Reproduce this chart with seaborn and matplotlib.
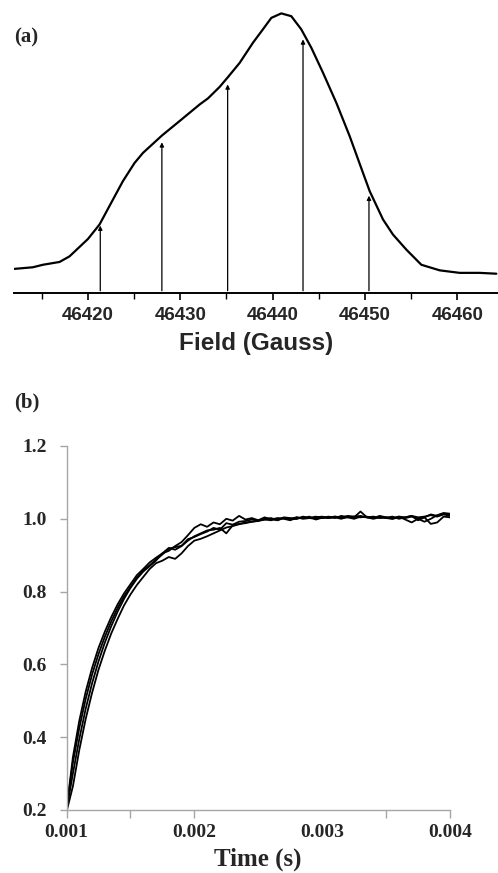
import numpy as np
import pandas as pd
import matplotlib
matplotlib.use("Agg")
import matplotlib.pyplot as plt
import seaborn as sns

# ---------------- Panel (a) data: EPR field sweep ----------------
field_gauss = [46411.95, 46414.04, 46415.13, 46416.93, 46418.01, 46420.00, 46421.26,
               46422.71, 46423.79, 46425.05, 46425.96, 46428.01, 46429.93, 46432.09,
               46433.00, 46434.26, 46435.16, 46436.43, 46437.87, 46438.95, 46439.86,
               46440.94, 46442.02, 46443.10, 46444.19, 46445.45, 46446.90, 46448.34,
               46449.78, 46450.51, 46451.95, 46453.03, 46454.48, 46456.10, 46458.09,
               46460.25, 46462.42, 46464.22]
intensity = [0.086, 0.092, 0.101, 0.111, 0.131, 0.193, 0.245,
             0.334, 0.400, 0.465, 0.501, 0.563, 0.615, 0.674,
             0.696, 0.737, 0.772, 0.823, 0.895, 0.943, 0.984,
             1.000, 0.990, 0.943, 0.877, 0.788, 0.680, 0.561,
             0.430, 0.364, 0.263, 0.209, 0.155, 0.101, 0.081,
             0.072, 0.072, 0.069]
arrow_fields = [46421.34, 46428.01, 46435.13, 46443.29, 46450.43]
arrow_tops = [0.241, 0.539, 0.746, 0.907, 0.348]
arrow_base = 0.008
a_ticks = [46420, 46430, 46440, 46450, 46460]
a_minor = [46415, 46425, 46435, 46445, 46455]

# ---------------- Panel (b) data: recovery traces ----------------
time_s = [0.00100, 0.00105, 0.00110, 0.00115, 0.00120, 0.00125, 0.00130, 0.00135,
          0.00140, 0.00145, 0.00150, 0.00155, 0.00160, 0.00165, 0.00170, 0.00175,
          0.00180, 0.00185, 0.00190, 0.00195, 0.00200, 0.00205, 0.00210, 0.00215,
          0.00220, 0.00225, 0.00230, 0.00235, 0.00240, 0.00245, 0.00250, 0.00255,
          0.00260, 0.00265, 0.00270, 0.00275, 0.00280, 0.00285, 0.00290, 0.00295,
          0.00300, 0.00305, 0.00310, 0.00315, 0.00320, 0.00325, 0.00330, 0.00335,
          0.00340, 0.00345, 0.00350, 0.00355, 0.00360, 0.00365, 0.00370, 0.00375,
          0.00380, 0.00385, 0.00390, 0.00395, 0.00400]
trace_1 = [0.200, 0.345, 0.445, 0.525, 0.590, 0.645, 0.690, 0.730, 0.765, 0.795,
           0.820, 0.845, 0.862, 0.880, 0.893, 0.905, 0.912, 0.925, 0.936, 0.955,
           0.975, 0.985, 0.978, 0.990, 0.985, 1.000, 0.995, 1.008, 0.998, 1.002,
           0.996, 1.004, 0.998, 1.002, 1.000, 0.996, 1.004, 1.002, 1.006, 0.998,
           1.003, 1.006, 1.002, 1.008, 1.004, 1.000, 1.006, 1.004, 1.002, 1.006,
           1.003, 1.006, 1.000, 1.004, 1.008, 1.004, 1.006, 1.010, 1.006, 1.012,
           1.008]
trace_2 = [0.205, 0.330, 0.425, 0.505, 0.572, 0.628, 0.676, 0.718, 0.755, 0.787,
           0.812, 0.838, 0.858, 0.872, 0.888, 0.902, 0.918, 0.922, 0.926, 0.944,
           0.950, 0.958, 0.965, 0.975, 0.970, 0.988, 0.984, 0.992, 0.994, 0.998,
           0.996, 1.000, 1.002, 0.996, 1.004, 1.002, 1.000, 1.006, 1.002, 1.004,
           1.006, 1.002, 1.004, 1.000, 1.006, 1.004, 1.020, 1.004, 1.006, 1.002,
           1.004, 1.000, 1.006, 1.004, 1.008, 0.996, 1.004, 1.012, 1.008, 1.014,
           1.012]
trace_3 = [0.200, 0.300, 0.395, 0.478, 0.548, 0.608, 0.660, 0.705, 0.745, 0.780,
           0.810, 0.835, 0.855, 0.870, 0.885, 0.905, 0.920, 0.915, 0.925, 0.940,
           0.952, 0.960, 0.968, 0.970, 0.975, 0.960, 0.982, 0.986, 0.988, 0.992,
           0.995, 0.998, 1.000, 0.996, 1.002, 1.000, 1.004, 1.000, 1.002, 1.006,
           1.002, 1.004, 1.006, 1.002, 1.004, 1.006, 1.008, 1.004, 1.000, 1.004,
           1.002, 1.000, 1.004, 1.002, 1.006, 1.000, 0.992, 1.000, 1.010, 1.016,
           1.014]
trace_4 = [0.195, 0.265, 0.365, 0.450, 0.522, 0.585, 0.638, 0.685, 0.725, 0.762,
           0.792, 0.818, 0.840, 0.862, 0.878, 0.885, 0.895, 0.890, 0.905, 0.925,
           0.940, 0.945, 0.952, 0.960, 0.968, 0.976, 0.980, 0.985, 0.990, 0.992,
           0.994, 0.998, 0.996, 1.000, 1.002, 0.998, 1.000, 1.004, 1.002, 1.000,
           1.004, 1.002, 1.006, 1.004, 1.008, 1.006, 1.004, 1.006, 1.002, 1.008,
           1.004, 1.002, 1.006, 0.998, 0.990, 1.000, 1.004, 0.986, 0.990, 1.006,
           1.004]
b_xticks = [0.001, 0.002, 0.003, 0.004]
b_xticklabels = ["0.001", "0.002", "0.003", "0.004"]
b_xminor = [0.0015, 0.0035]
b_yticks = [0.2, 0.4, 0.6, 0.8, 1.0, 1.2]
b_yticklabels = ["0.2", "0.4", "0.6", "0.8", "1.0", "1.2"]

# ---------------- Figure ----------------
sns.set_style("white")
plt.rcParams['font.family'] = ['Liberation Sans', 'DejaVu Sans']

W, H = 498, 873
fig = plt.figure(figsize=(W / 100, H / 100), dpi=100)

# Panel (a)
axa = fig.add_axes([14 / W, 1 - 293 / H, (W - 14) / W, (293 - 5) / H])
df_a = pd.DataFrame({"field": field_gauss, "intensity": intensity})
sns.lineplot(data=df_a, x="field", y="intensity", ax=axa, color="black",
             linewidth=1.6, sort=False)
for f, t in zip(arrow_fields, arrow_tops):
    axa.annotate("", xy=(f, t), xytext=(f, arrow_base),
                 arrowprops=dict(arrowstyle="-|>", color="black", lw=0.9,
                                 mutation_scale=6, shrinkA=0, shrinkB=0))
axa.set_xlim(46412, 46464.4)
axa.set_ylim(0, 1.03)
for s in ["top", "left", "right"]:
    axa.spines[s].set_visible(False)
axa.spines["bottom"].set_color("black")
axa.spines["bottom"].set_linewidth(1.4)
axa.set_yticks([])
axa.set_xticks(a_ticks)
axa.set_xticks(a_minor, minor=True)
axa.set_xticklabels([str(v) for v in a_ticks], fontsize=13.5, fontweight="bold",
                    family="Liberation Sans")
axa.tick_params(axis="x", which="major", direction="out", length=5, width=1.2,
                color="black", pad=5, bottom=True)
axa.tick_params(axis="x", which="minor", direction="out", length=4, width=1.0,
                color="black", bottom=True)
axa.set_xlabel("Field (Gauss)", fontsize=17.5, fontweight="bold",
               family="Liberation Sans", labelpad=6)
axa.set_ylabel("")

# Panel (b)
axb = fig.add_axes([66.5 / W, 1 - 810 / H, (450 - 66.5) / W, (810 - 446) / H])
df_b = pd.DataFrame({
    "time": time_s * 4,
    "signal": trace_1 + trace_2 + trace_3 + trace_4,
    "trace": ["1"] * len(time_s) + ["2"] * len(time_s) + ["3"] * len(time_s) + ["4"] * len(time_s),
})
sns.lineplot(data=df_b, x="time", y="signal", units="trace", estimator=None,
             ax=axb, color="black", linewidth=1.3)
axb.set_xlim(0.001, 0.004)
axb.set_ylim(0.2, 1.2)
for s in ["top", "right"]:
    axb.spines[s].set_visible(False)
for s in ["left", "bottom"]:
    axb.spines[s].set_color("#a6a6a6")
    axb.spines[s].set_linewidth(1.0)
serif = ["Liberation Serif", "DejaVu Serif"]
axb.set_xticks(b_xticks)
axb.set_xticks(b_xminor, minor=True)
axb.set_xticklabels(b_xticklabels, fontsize=14, fontweight="bold", family=serif)
axb.set_yticks(b_yticks)
axb.set_yticklabels(b_yticklabels, fontsize=14, fontweight="bold", family=serif)
axb.tick_params(axis="x", which="both", direction="out", length=6, width=1.0,
                color="#a6a6a6", pad=4, bottom=True)
axb.tick_params(axis="y", which="major", direction="out", length=5, width=1.0,
                color="#a6a6a6", pad=9, left=True)
# the 0.003 major tick mark is not drawn in the original
axb.xaxis.get_major_ticks()[2].tick1line.set_visible(False)
axb.set_xlabel("Time (s)", fontsize=18, fontweight="bold", family=serif, labelpad=5)
axb.set_ylabel("")

# Panel letters
fig.text(14 / W, 1 - 37 / H, "(a)", fontsize=15, fontweight="bold", family=serif,
         ha="left", va="center")
fig.text(14 / W, 1 - 402 / H, "(b)", fontsize=15, fontweight="bold", family=serif,
         ha="left", va="center")

fig.savefig("out.png", dpi=100)
